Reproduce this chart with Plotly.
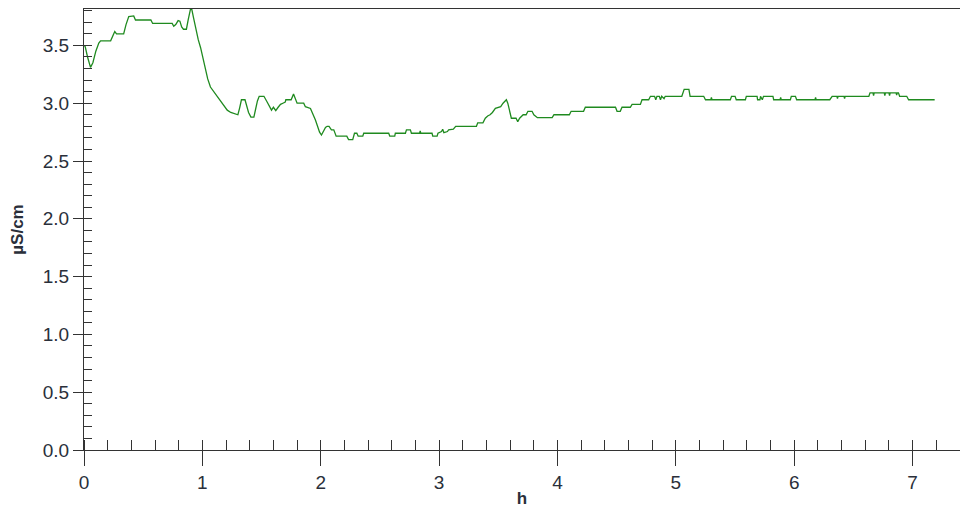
import plotly.graph_objects as go

# Conductivity over time
time_h = [
    0.00, 0.01, 0.03, 0.055, 0.075, 0.10, 0.125, 0.14, 0.225, 0.245, 0.26, 0.275, 0.335, 0.355,
    0.378, 0.42, 0.435, 0.565, 0.58, 0.745, 0.758, 0.775, 0.795, 0.81, 0.825, 0.84, 0.865, 0.88,
    0.905, 0.925, 0.945, 0.965, 0.985, 1.005, 1.025, 1.045, 1.068, 1.09, 1.11, 1.13, 1.15, 1.17,
    1.19, 1.21, 1.24, 1.27, 1.285, 1.30, 1.315, 1.33, 1.36, 1.375, 1.39, 1.41, 1.435, 1.45, 1.465,
    1.48, 1.52, 1.547, 1.565, 1.584, 1.60, 1.62, 1.64, 1.66, 1.68, 1.70, 1.705, 1.75, 1.77, 1.785,
    1.80, 1.856, 1.87, 1.913, 1.94, 1.955, 1.97, 1.99, 2.006, 2.02, 2.04, 2.054, 2.07, 2.09, 2.11,
    2.13, 2.22, 2.235, 2.27, 2.285, 2.305, 2.316, 2.355, 2.363, 2.574, 2.583, 2.625, 2.63, 2.715,
    2.724, 2.757, 2.766, 2.835, 2.84, 2.845, 2.94, 2.946, 2.983, 2.99, 3.02, 3.03, 3.04, 3.07, 3.08,
    3.12, 3.14, 3.315, 3.326, 3.37, 3.39, 3.41, 3.43, 3.45, 3.475, 3.50, 3.52, 3.54, 3.568, 3.58,
    3.61, 3.65, 3.664, 3.68, 3.71, 3.735, 3.75, 3.785, 3.80, 3.83, 3.955, 3.97, 4.10, 4.115, 4.22,
    4.235, 4.49, 4.503, 4.53, 4.545, 4.615, 4.63, 4.70, 4.714, 4.77, 4.785, 4.82, 4.83, 4.84, 4.86,
    4.87, 4.88, 4.90, 4.91, 5.05, 5.07, 5.11, 5.12, 5.235, 5.25, 5.295, 5.30, 5.305, 5.46, 5.47,
    5.50, 5.51, 5.587, 5.595, 5.686, 5.69, 5.71, 5.715, 5.73, 5.74, 5.82, 5.826, 5.88, 5.885, 5.89,
    5.967, 5.975, 6.01, 6.02, 6.175, 6.18, 6.185, 6.30, 6.32, 6.36, 6.365, 6.37, 6.42, 6.425, 6.43,
    6.63, 6.64, 6.665, 6.67, 6.675, 6.76, 6.765, 6.77, 6.80, 6.805, 6.81, 6.86, 6.865, 6.87, 6.88,
    6.89, 6.95, 6.966, 7.186,
]
conductivity = [
    3.50, 3.49, 3.40, 3.31, 3.35, 3.45, 3.52, 3.54, 3.54, 3.58, 3.62, 3.60, 3.60, 3.68,
    3.75, 3.755, 3.72, 3.72, 3.69, 3.69, 3.665, 3.68, 3.715, 3.71, 3.66, 3.64, 3.64, 3.72,
    3.84, 3.74, 3.64, 3.55, 3.48, 3.38, 3.29, 3.21, 3.14, 3.11, 3.085, 3.06, 3.03, 3.00,
    2.97, 2.94, 2.92, 2.91, 2.90, 2.90, 2.96, 3.03, 3.03, 2.97, 2.92, 2.88, 2.88, 2.95, 3.02,
    3.06, 3.06, 3.01, 2.97, 2.94, 2.965, 2.935, 2.965, 2.99, 3.00, 3.01, 3.03, 3.03, 3.08, 3.04,
    3.00, 3.00, 2.97, 2.955, 2.90, 2.855, 2.81, 2.75, 2.725, 2.75, 2.79, 2.80, 2.80, 2.77, 2.77,
    2.715, 2.715, 2.685, 2.685, 2.74, 2.74, 2.715, 2.715, 2.74, 2.74, 2.715, 2.715, 2.74, 2.74,
    2.77, 2.77, 2.74, 2.74, 2.76, 2.74, 2.74, 2.715, 2.715, 2.74, 2.755, 2.775, 2.745, 2.755, 2.77,
    2.775, 2.80, 2.80, 2.83, 2.83, 2.87, 2.89, 2.90, 2.92, 2.955, 2.965, 2.97, 3.00, 3.03, 3.00,
    2.87, 2.87, 2.84, 2.87, 2.90, 2.90, 2.93, 2.93, 2.90, 2.875, 2.875, 2.90, 2.90, 2.93, 2.93,
    2.965, 2.965, 2.93, 2.93, 2.965, 2.965, 2.99, 2.99, 3.03, 3.03, 3.06, 3.06, 3.03, 3.06, 3.06,
    3.03, 3.06, 3.04, 3.06, 3.06, 3.12, 3.12, 3.06, 3.06, 3.03, 3.03, 3.05, 3.03, 3.03, 3.06,
    3.06, 3.03, 3.03, 3.06, 3.06, 3.03, 3.03, 3.06, 3.03, 3.06, 3.06, 3.03, 3.03, 3.05, 3.03,
    3.03, 3.06, 3.06, 3.03, 3.03, 3.05, 3.03, 3.03, 3.06, 3.06, 3.04, 3.06, 3.06, 3.04, 3.06,
    3.06, 3.09, 3.09, 3.065, 3.09, 3.09, 3.065, 3.09, 3.09, 3.065, 3.09, 3.09, 3.07, 3.09, 3.09,
    3.06, 3.06, 3.03, 3.03,
]

x_major_ticks = [0, 1, 2, 3, 4, 5, 6, 7]
x_tick_labels = ["0", "1", "2", "3", "4", "5", "6", "7"]
y_major_ticks = [0.0, 0.5, 1.0, 1.5, 2.0, 2.5, 3.0, 3.5]
y_tick_labels = ["0.0", "0.5", "1.0", "1.5", "2.0", "2.5", "3.0", "3.5"]
x_title = "h"
y_title = "µS/cm"

X_RANGE = [0, 7.40]
Y_RANGE = [0, 3.815]
AXIS_COLOR = "#333333"
TEXT_COLOR = "#2a2f3a"
FONT = "Liberation Sans, Arial, sans-serif"

fig = go.Figure()
fig.add_trace(go.Scatter(
    x=time_h, y=conductivity, mode="lines",
    line=dict(color="#1f8a1f", width=1.3),
    showlegend=False, hoverinfo="skip",
))
# invisible trace on overlay axes so they render
fig.add_trace(go.Scatter(x=[None], y=[None], xaxis="x2", yaxis="y2", showlegend=False))

fig.update_layout(
    width=960, height=508,
    margin=dict(l=84, r=0, t=9, b=58),
    paper_bgcolor="white", plot_bgcolor="white",
    font=dict(family=FONT, size=19, color=TEXT_COLOR),
    xaxis=dict(
        range=X_RANGE, tickmode="array", tickvals=x_major_ticks, ticktext=x_tick_labels,
        ticks="outside", ticklen=15, tickwidth=1, tickcolor=AXIS_COLOR,
        minor=dict(ticks="inside", dtick=0.2, tick0=0, ticklen=10, tickwidth=1, tickcolor=AXIS_COLOR),
        showline=True, linecolor=AXIS_COLOR, linewidth=1, mirror=True,
        showgrid=False, zeroline=False,
        title=dict(text="<b>" + x_title + "</b>", font=dict(size=17, color=TEXT_COLOR), standoff=0),
        tickfont=dict(size=19, color=TEXT_COLOR),
    ),
    yaxis=dict(
        range=Y_RANGE, tickmode="array", tickvals=y_major_ticks, ticktext=y_tick_labels,
        ticks="outside", ticklen=10, tickwidth=1, tickcolor=AXIS_COLOR,
        minor=dict(ticks="inside", dtick=0.1, tick0=0, ticklen=8, tickwidth=1, tickcolor=AXIS_COLOR),
        showline=True, linecolor=AXIS_COLOR, linewidth=1,
        showgrid=False, zeroline=False,
        title=dict(text="<b>" + y_title + "</b>", font=dict(size=17, color=TEXT_COLOR), standoff=14),
        tickfont=dict(size=19, color=TEXT_COLOR),
    ),
    xaxis2=dict(
        range=X_RANGE, overlaying="x", anchor="y", side="bottom",
        tickmode="array", tickvals=x_major_ticks[1:], ticks="inside", ticklen=10,
        tickwidth=1, tickcolor=AXIS_COLOR, showticklabels=False,
        showgrid=False, zeroline=False, showline=False,
    ),
    yaxis2=dict(
        range=Y_RANGE, overlaying="y", anchor="x", side="left",
        tickmode="array", tickvals=y_major_ticks[1:], ticks="inside", ticklen=8,
        tickwidth=1, tickcolor=AXIS_COLOR, showticklabels=False,
        showgrid=False, zeroline=False, showline=False,
    ),
)

fig.write_html("out.html")
